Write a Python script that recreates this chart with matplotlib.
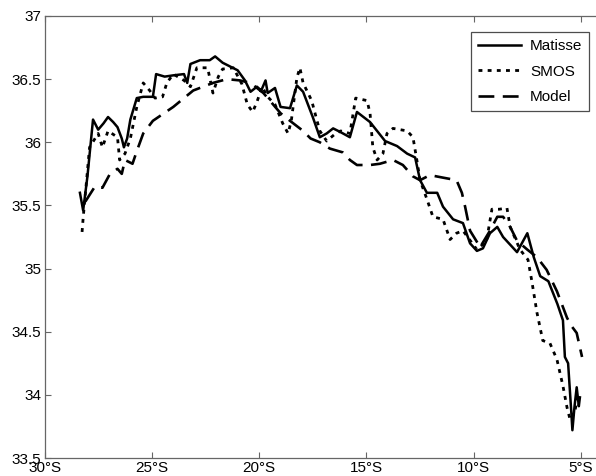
import numpy as np
import matplotlib
matplotlib.use('Agg')
import matplotlib.pyplot as plt

# latitude (negative = south) and salinity for each track
matisse_lat = [-28.35, -28.2, -28.0, -27.74, -27.5, -27.25, -27.04, -26.8, -26.6, -26.4, -26.3, -26.15, -26.0,
               -25.7, -25.4, -24.95, -24.8, -24.4, -24.0, -23.5, -23.35, -23.2, -22.75, -22.3, -22.05,
               -21.7, -21.0, -20.66, -20.4, -20.1, -19.9, -19.7, -19.6, -19.26, -19.0, -18.56, -18.24,
               -17.95, -17.5, -17.17, -16.85, -16.55, -16.2, -15.77, -15.44, -14.83, -14.13, -13.57,
               -13.1, -12.73, -12.5, -12.18, -11.7, -11.43, -10.96, -10.5, -10.17, -9.85, -9.57, -9.24,
               -8.9, -8.63, -7.98, -7.5, -7.2, -6.9, -6.52, -6.1, -5.84, -5.75, -5.6, -5.45, -5.4,
               -5.3, -5.2, -5.1, -5.05]
matisse_val = [35.6, 35.46, 35.73, 36.18, 36.1, 36.15, 36.2, 36.16, 36.12, 36.03, 35.96, 36.03, 36.18,
               36.35, 36.36, 36.36, 36.54, 36.52, 36.53, 36.54, 36.47, 36.62, 36.65, 36.65, 36.68,
               36.63, 36.57, 36.49, 36.4, 36.44, 36.41, 36.49, 36.39, 36.43, 36.28, 36.27, 36.45,
               36.4, 36.2, 36.04, 36.07, 36.11, 36.08, 36.04, 36.24, 36.16, 36.01, 35.97,
               35.91, 35.88, 35.7, 35.6, 35.6, 35.49, 35.39, 35.36, 35.2, 35.14, 35.16, 35.28,
               35.33, 35.25, 35.13, 35.28, 35.09, 34.94, 34.9, 34.72, 34.59, 34.3, 34.25, 33.86, 33.72,
               33.91, 34.06, 33.91, 33.98]

smos_lat = [-28.25, -28.2, -27.9, -27.5, -27.3, -27.04, -26.6, -26.5, -26.25, -26.0, -25.7, -25.4, -25.1,
            -24.85, -24.5, -24.3, -24.0, -23.5, -23.2, -22.9, -22.4, -22.15, -21.9, -21.7, -21.2,
            -20.8, -20.55, -20.3, -20.1, -19.86, -19.6, -19.26, -18.9, -18.65, -18.5, -18.24, -18.1,
            -17.95, -17.55, -17.3, -17.17, -16.85, -16.5, -16.2, -15.77, -15.5, -14.97, -14.83, -14.7,
            -14.5, -14.23, -14.04, -13.76, -13.1, -12.83, -12.65, -12.5, -12.18, -11.9, -11.43, -11.1,
            -10.8, -10.5, -9.85, -9.4, -9.15, -8.8, -8.45, -8.3, -7.84, -7.47, -7.3, -7.05, -6.78,
            -6.45, -6.12, -5.84, -5.65, -5.5, -5.3, -5.1]
smos_val = [35.29, 35.4, 35.96, 36.07, 35.96, 36.09, 36.04, 35.86, 35.91, 36.03, 36.28, 36.47, 36.41,
            36.35, 36.36, 36.47, 36.54, 36.49, 36.44, 36.59, 36.59, 36.39, 36.52, 36.58, 36.59,
            36.46, 36.3, 36.24, 36.32, 36.44, 36.36, 36.3, 36.15, 36.07, 36.17, 36.51, 36.59,
            36.47, 36.33, 36.17, 36.09, 36.01, 36.06, 36.09, 36.07, 36.35, 36.33, 36.23, 35.96,
            35.86, 35.91, 36.07, 36.11, 36.09, 36.04, 35.86, 35.7, 35.55, 35.41, 35.39, 35.23,
            35.28, 35.3, 35.15, 35.22, 35.47, 35.47, 35.48, 35.33, 35.15, 35.07, 34.91, 34.65, 34.43,
            34.41, 34.28, 34.07, 33.9, 33.8, 33.86, 34.02]

model_lat = [-28.1, -27.65, -27.3, -26.95, -26.6, -26.4, -26.25, -25.9, -25.7, -25.4, -24.95, -24.0,
             -23.07, -22.15, -21.5, -20.9, -20.4, -19.8, -19.4, -19.0, -18.56, -17.95, -17.6, -17.17,
             -16.7, -16.1, -15.77, -15.44, -14.83, -14.37, -13.76, -13.3, -12.83, -12.5, -12.04,
             -11.43, -10.8, -10.55, -10.4, -10.17, -9.7, -9.24, -8.9, -8.63, -8.3, -7.98, -7.5,
             -7.05, -6.6, -6.12, -5.65, -5.42, -5.2, -4.95]
model_val = [35.53, 35.65, 35.64, 35.75, 35.79, 35.75, 35.86, 35.83, 35.93, 36.07, 36.17, 36.28,
             36.41, 36.47, 36.5, 36.49, 36.47, 36.39, 36.31, 36.23, 36.17, 36.09, 36.03, 36.0,
             35.95, 35.92, 35.86, 35.82, 35.82, 35.83, 35.86, 35.82, 35.73, 35.7, 35.74,
             35.72, 35.7, 35.6, 35.49, 35.3, 35.17, 35.3, 35.41, 35.41, 35.33, 35.22, 35.15,
             35.09, 34.99, 34.82, 34.61, 34.54, 34.49, 34.3]

x_ticks = [-30, -25, -20, -15, -10, -5]
x_labels = ['30°S', '25°S', '20°S', '15°S', '10°S', '5°S']
y_ticks = [33.5, 34, 34.5, 35, 35.5, 36, 36.5, 37]
y_labels = ['33.5', '34', '34.5', '35', '35.5', '36', '36.5', '37']

plt.rcParams['font.family'] = ['Liberation Sans', 'DejaVu Sans']

fig = plt.figure(figsize=(5.96, 4.76), dpi=100)
ax = fig.add_axes([0.0747, 0.0378, 0.9253, 0.9286])

ax.plot(matisse_lat, matisse_val, color='black', linewidth=1.8, label='Matisse')
ax.plot(smos_lat, smos_val, color='black', linewidth=2.0, linestyle=(0, (1.4, 1.9)), label='SMOS')
ax.plot(model_lat, model_val, color='black', linewidth=1.9, linestyle=(0, (6, 3.2)), label='Model')

ax.set_xlim(-30, -4.3)
ax.set_ylim(33.5, 37)
ax.set_xticks(x_ticks)
ax.set_xticklabels(x_labels)
ax.set_yticks(y_ticks)
ax.set_yticklabels(y_labels)
ax.tick_params(direction='in', top=True, right=False, length=4, width=0.8,
               color='0.4', labelsize=11, pad=2.5)
for s in ['left', 'bottom', 'top']:
    ax.spines[s].set_color('0.4')
    ax.spines[s].set_linewidth(0.9)
ax.spines['right'].set_visible(False)

leg = ax.legend(loc='upper right', bbox_to_anchor=(0.988, 0.963), fontsize=11,
                handlelength=2.8, handletextpad=0.6, borderpad=0.45, labelspacing=0.75,
                fancybox=False, framealpha=1, edgecolor='0.3', borderaxespad=0)
leg.get_frame().set_linewidth(0.9)

fig.savefig('out.png', dpi=100)
